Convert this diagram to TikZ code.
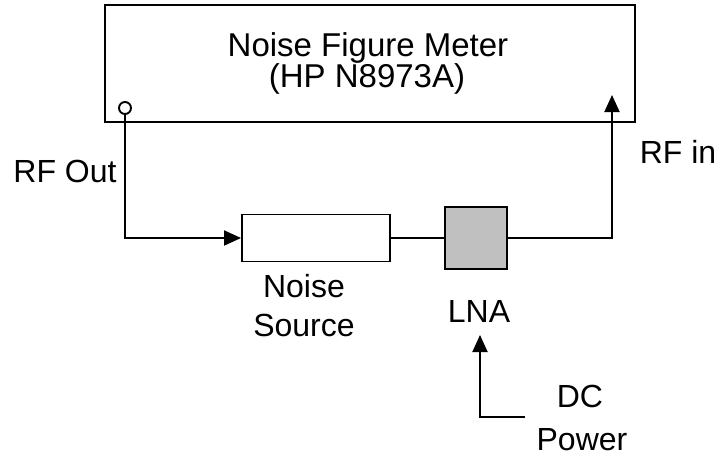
\documentclass[tikz,border=0pt]{standalone}
\usepackage{fontspec}
\setmainfont{Liberation Sans}
\usetikzlibrary{arrows.meta}
\begin{document}
\begin{tikzpicture}[x=1pt,y=-1pt,
  wire/.style={line width=1.9pt},
  arr/.style={wire,-{Triangle[length=17pt,width=15pt]}},
  box/.style={draw,line width=1.9pt,inner sep=0pt,minimum width=#1},
  lbl/.style={font=\fontsize{32}{38}\selectfont,anchor=base,inner sep=0pt}]
\useasboundingbox (0,0) rectangle (721,456);
\node[box=530pt,minimum height=117pt] (meter) at (370,63.5) {};
\node[box=148pt,minimum height=47pt] (ns) at (316,238) {};
\node[box=62pt,minimum height=62pt,fill={rgb,255:red,192;green,192;blue,192}] (lna) at (476,238) {};
\node[draw,circle,line width=1.9pt,minimum size=12pt,inner sep=0pt] (port) at (125,108) {};
\node[lbl,font=\fontsize{33}{38}\selectfont] (t1) at (368,56) {Noise Figure Meter};
\node[lbl,font=\fontsize{33}{38}\selectfont] (t2) at (367,87) {(HP N8973A)};
\node[lbl] (rfout) at (65,182) {RF Out};
\node[lbl] (rfin) at (678,163) {RF in};
\node[lbl] (nsa) at (304,297) {Noise};
\node[lbl] (nsb) at (304,336) {Source};
\node[lbl] (lnat) at (479,322) {LNA};
\node[lbl] (dc) at (580,407) {DC};
\node[lbl] (pw) at (582,450) {Power};
\coordinate (rfinpt) at (612,95);
\coordinate (dcend) at (525,417);
\coordinate (dctip) at (480,335);
\draw[arr] (port.south) |- (ns.west);
\draw[wire] (ns.east) -- (lna.west);
\draw[arr] (lna.east) -| (rfinpt);
\draw[arr] (dcend) -| (dctip);
\end{tikzpicture}
\end{document}
